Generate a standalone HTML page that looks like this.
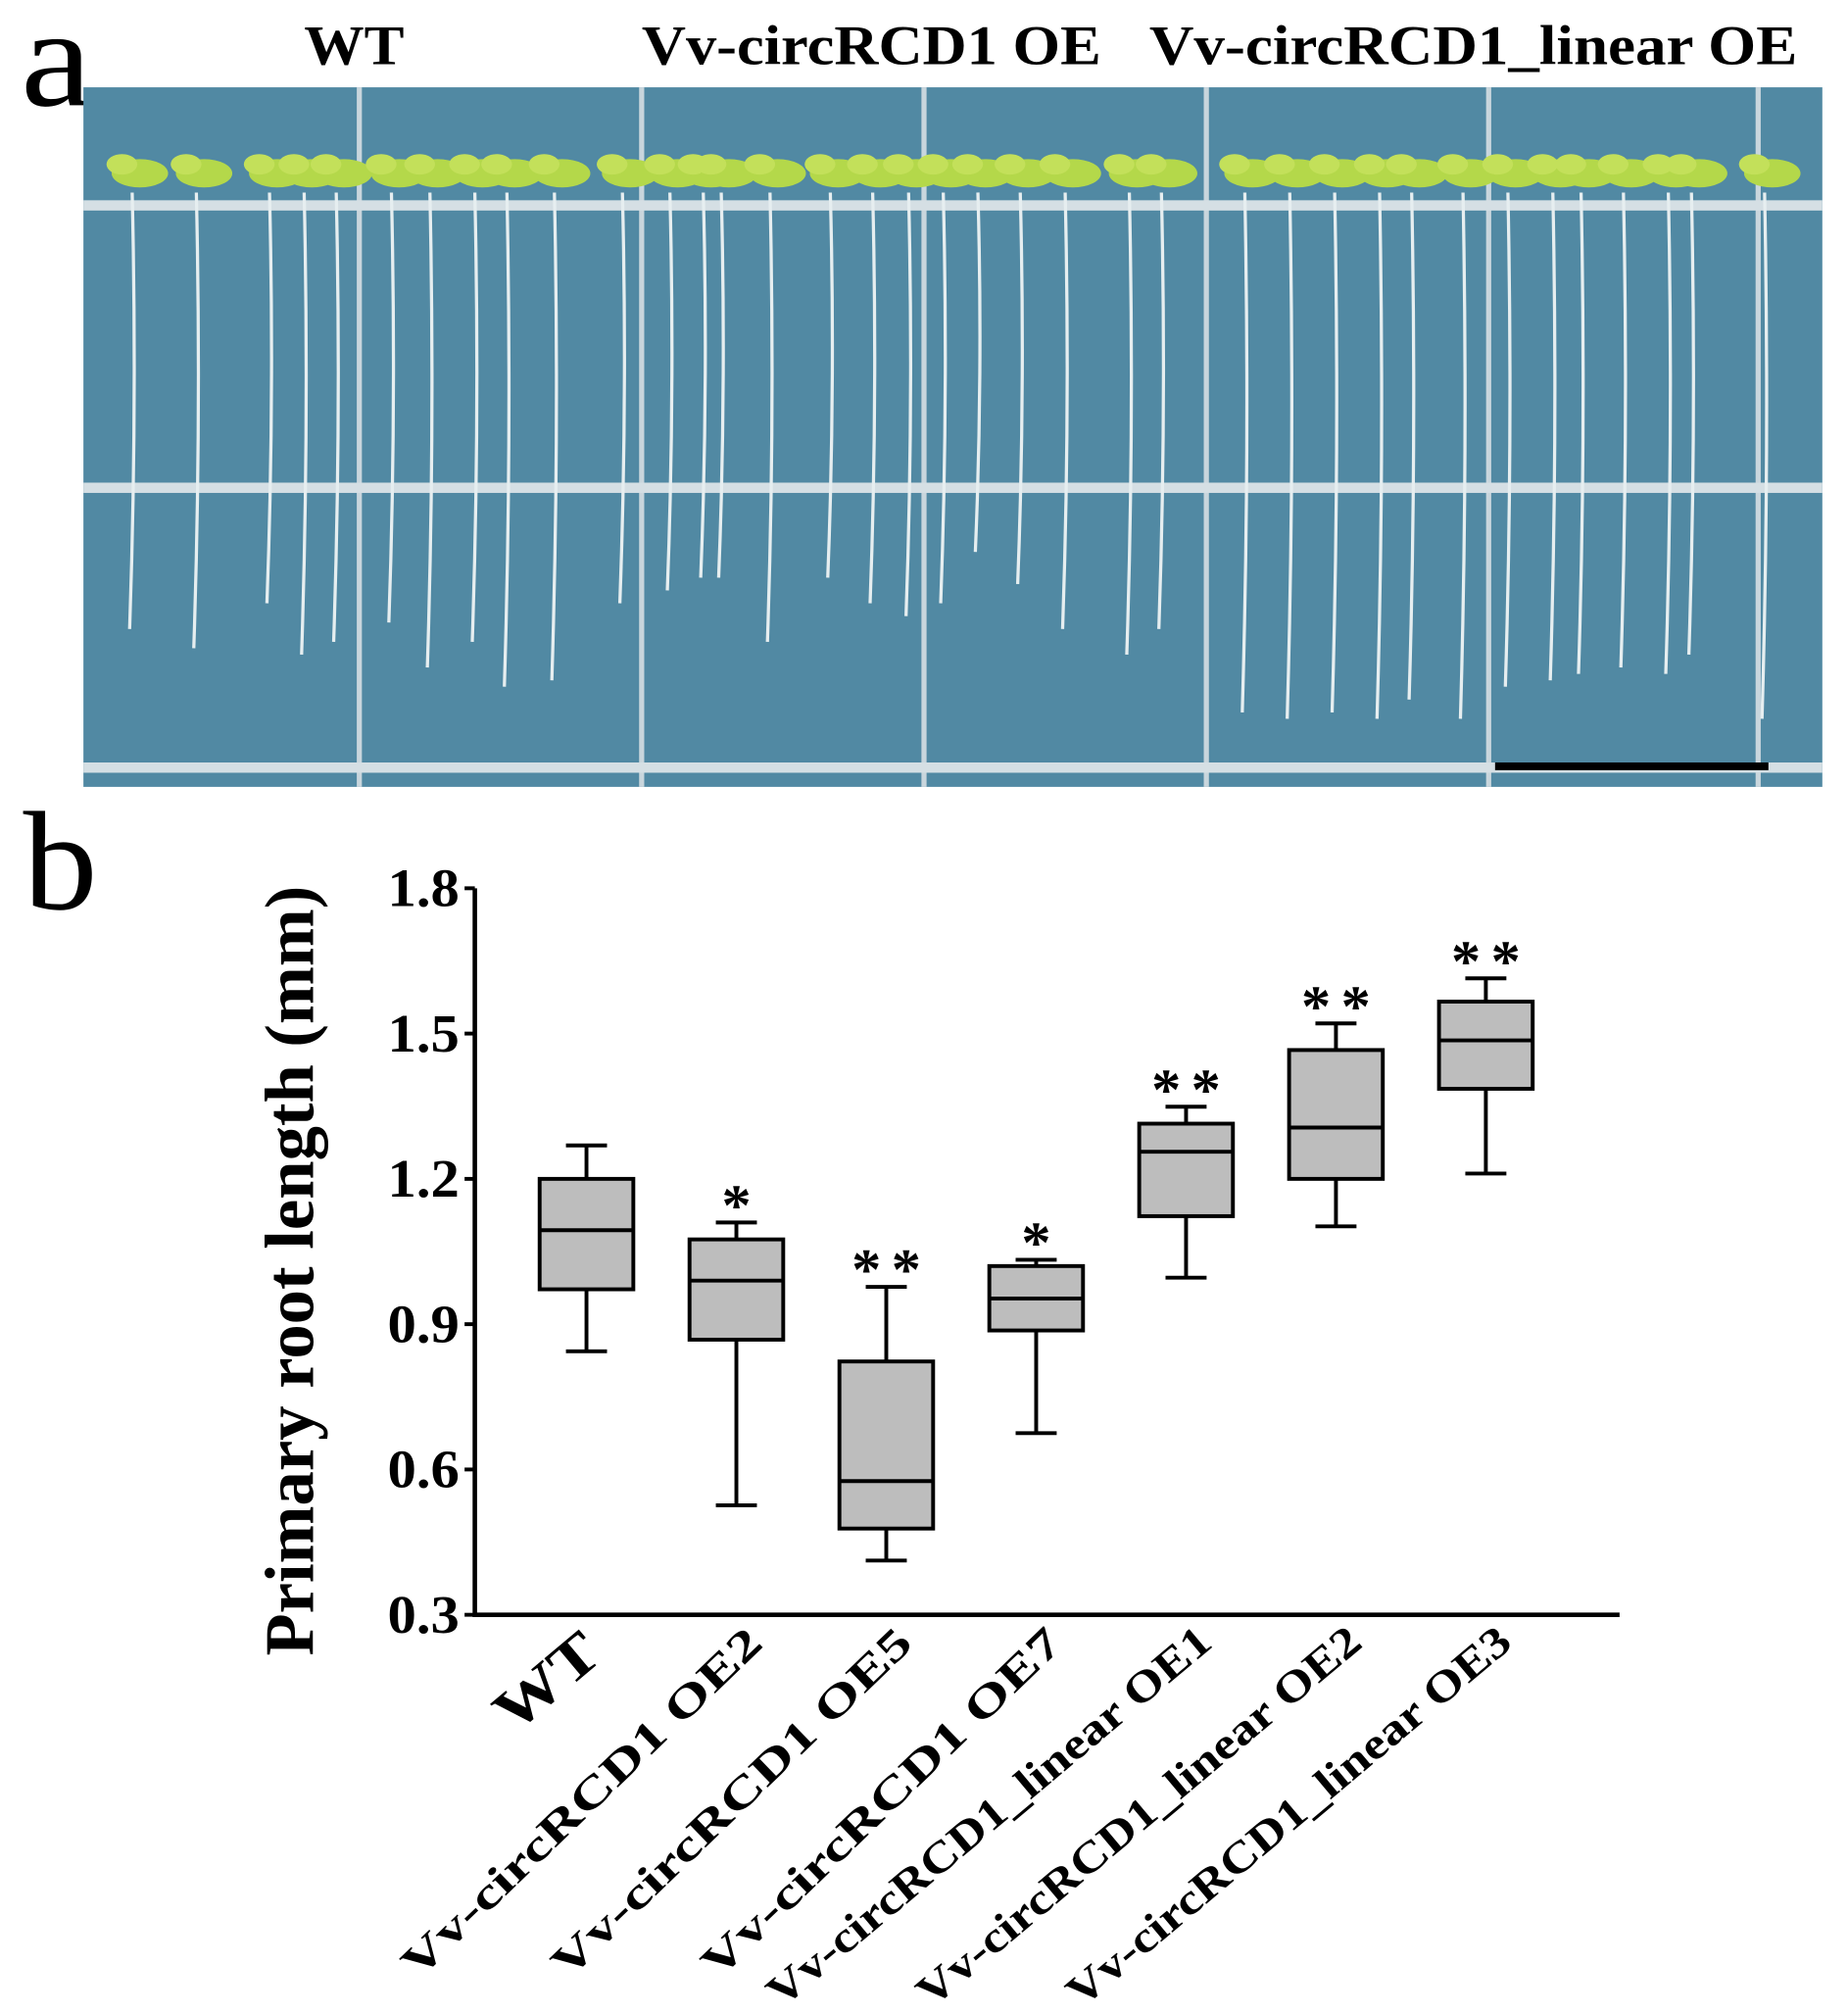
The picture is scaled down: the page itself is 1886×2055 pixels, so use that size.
<!DOCTYPE html>
<html><head><meta charset="utf-8"><style>
html,body{margin:0;padding:0;background:#fff;}
svg{display:block;}
text{font-family:"Liberation Serif",serif;font-weight:bold;fill:#000;}
</style></head><body>
<svg id="fig" width="1886" height="2055" viewBox="0 0 1440 1569" xmlns="http://www.w3.org/2000/svg">
<text x="16" y="82" font-size="110" textLength="56" lengthAdjust="spacingAndGlyphs" style="font-weight:normal">a</text>
<text x="276" y="50" font-size="44" text-anchor="middle" textLength="78" lengthAdjust="spacingAndGlyphs">WT</text>
<text x="679" y="50" font-size="44" text-anchor="middle" textLength="358" lengthAdjust="spacingAndGlyphs">Vv-circRCD1 OE</text>
<text x="1148" y="50" font-size="44" text-anchor="middle" textLength="505" lengthAdjust="spacingAndGlyphs">Vv-circRCD1_linear OE</text>
<g id="photo">
<rect x="65" y="68" width="1355" height="545" fill="#5189a3"/>
</g>
<text x="18" y="708" font-size="110" textLength="58" lengthAdjust="spacingAndGlyphs" style="font-weight:normal">b</text>
<g id="chart"></g>
</svg>
<script>
const categories=["WT","Vv-circRCD1 OE2","Vv-circRCD1 OE5","Vv-circRCD1 OE7","Vv-circRCD1_linear OE1","Vv-circRCD1_linear OE2","Vv-circRCD1_linear OE3"];
const whiskerMax=[1.269,1.110,0.977,1.033,1.349,1.521,1.614];
const q3=[1.200,1.075,0.823,1.020,1.314,1.466,1.566];
const median=[1.094,0.990,0.576,0.953,1.256,1.306,1.486];
const q1=[0.972,0.868,0.478,0.887,1.123,1.200,1.386];
const whiskerMin=[0.844,0.526,0.412,0.675,0.996,1.102,1.211];
const significance=["","*","**","*","**","**","**"];
const yTicks=[0.3,0.6,0.9,1.2,1.5,1.8];
const yTickLabels=["0.3","0.6","0.9","1.2","1.5","1.8"];

const NS="http://www.w3.org/2000/svg";
function mk(parent,tag,attrs,txt){const e=document.createElementNS(NS,tag);for(const k in attrs)e.setAttribute(k,attrs[k]);if(txt!==undefined)e.textContent=txt;parent.appendChild(e);return e;}

// photo decoration
const photo=document.getElementById('photo');
[280,500,720,940,1160,1370].forEach(x=>{const l=mk(photo,'rect',{x:x-2,y:68,width:4,height:545,fill:'#c9d6dd'});

});
[160,380,598].forEach(y=>{const l=mk(photo,'rect',{x:65,y:y-4,width:1355,height:8,fill:'#d5dfe4'});

});
const rootX=[103,153,210,237,262,305,335,370,395,432,485,522,548,562,600,647,680,708,735,762,795,830,880,905,970,1005,1040,1075,1100,1140,1175,1210,1232,1265,1300,1318,1375];
const rootEnd=[490,505,470,510,500,485,520,500,535,530,470,460,450,450,500,450,470,480,470,430,455,490,510,490,555,560,555,560,545,560,535,530,525,520,525,510,560];
rootX.forEach((x,i)=>{
 const r=mk(photo,'path',{d:`M${x} 150 Q${x+4} ${(150+rootEnd[i])/2} ${x-2} ${rootEnd[i]}`,stroke:'#e6eef0',"stroke-width":2.5,fill:'none'});
 
 
 const g=mk(photo,'ellipse',{cx:x+6,cy:135,rx:22,ry:11,fill:'#b4d84a'});
 
 
 const g2=mk(photo,'ellipse',{cx:x-8,cy:128,rx:12,ry:8,fill:'#c3e05a'});
 
 
});
const sb=mk(photo,'rect',{x:1165,y:594,width:213,height:6,fill:'#000'});



// chart
const chart=document.getElementById('chart');
const X0=370,XEND=1262,YTOP=692,YBOT=1258,VMIN=0.3,VMAX=1.8;
const firstC=457,step=116.8,bw=73;
const yS=v=>YBOT-(v-VMIN)/(VMAX-VMIN)*(YBOT-YTOP);
const xS=i=>firstC+i*step;
const ax=mk(chart,'path',{d:`M${X0} ${YTOP} L${X0} ${YBOT} L${XEND} ${YBOT}`,stroke:'#000','stroke-width':3.5,fill:'none'});


yTicks.forEach((v,i)=>{
 const t=mk(chart,'line',{x1:X0-8,x2:X0,y1:yS(v),y2:yS(v),stroke:'#000','stroke-width':3});
 
 
 const l=mk(chart,'text',{x:X0-12,y:yS(v)+14,'font-size':42,'text-anchor':'end',textLength:56,lengthAdjust:'spacingAndGlyphs'},yTickLabels[i]);
 
 
});
const yt=mk(chart,'text',{x:0,y:0,'font-size':54,'text-anchor':'middle',textLength:600,lengthAdjust:'spacingAndGlyphs',transform:`translate(244,990) rotate(-90)`},'Primary root length (mm)');


categories.forEach((c,i)=>{
 const cx=xS(i);
 const g=mk(chart,'g',{});
 
 
 const sw=3;
 mk(g,'line',{x1:cx,x2:cx,y1:yS(whiskerMax[i]),y2:yS(q3[i]),stroke:'#000','stroke-width':sw});
 mk(g,'line',{x1:cx,x2:cx,y1:yS(q1[i]),y2:yS(whiskerMin[i]),stroke:'#000','stroke-width':sw});
 mk(g,'line',{x1:cx-16,x2:cx+16,y1:yS(whiskerMax[i]),y2:yS(whiskerMax[i]),stroke:'#000','stroke-width':sw});
 mk(g,'line',{x1:cx-16,x2:cx+16,y1:yS(whiskerMin[i]),y2:yS(whiskerMin[i]),stroke:'#000','stroke-width':sw});
 mk(g,'rect',{x:cx-bw/2,y:yS(q3[i]),width:bw,height:yS(q1[i])-yS(q3[i]),fill:'#bdbdbd',stroke:'#000','stroke-width':sw});
 mk(g,'line',{x1:cx-bw/2,x2:cx+bw/2,y1:yS(median[i]),y2:yS(median[i]),stroke:'#000','stroke-width':sw});
 if(significance[i]){
  const s=mk(chart,'text',{x:cx,y:yS(whiskerMax[i])+2,'font-size':46,'text-anchor':'middle',textLength:significance[i].length*27,lengthAdjust:'spacing'},significance[i]);
  
  
 }
 const isWT=(i===0);
 const isLin=c.indexOf('linear')>=0;
 const len=isWT?92:(isLin?440:375);
 const ang=isWT?-40:(isLin?-40:-44);
 const lab=mk(chart,'text',{x:0,y:0,'font-size':isWT?46:34,'text-anchor':'end',textLength:len,lengthAdjust:'spacingAndGlyphs',transform:`translate(${cx+(isWT?14:22)},${isWT?1292:1282}) rotate(${ang})`},c);
 
 
});
</script>
</body></html>
